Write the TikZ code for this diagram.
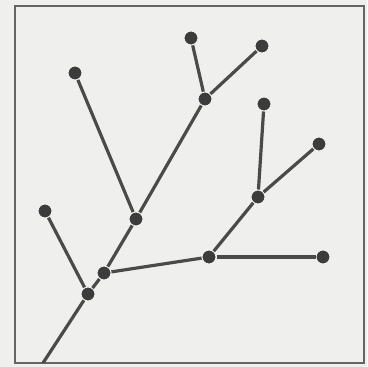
\documentclass[tikz,border=0pt]{standalone}
\definecolor{bg}{HTML}{EFEFED}
\definecolor{ink}{HTML}{4A4A4A}
\definecolor{dotc}{HTML}{3C3C3C}
\begin{document}
\begin{tikzpicture}[x=1pt,y=-1pt,
  branch/.style={draw=ink,line width=3.2pt},
  dot/.style={circle,fill=dotc,draw=bg,line width=2pt,minimum size=15pt,inner sep=0pt,outer sep=0pt}]
\useasboundingbox (0,0) rectangle (367,367);
\fill[bg] (0,0) rectangle (367,367);
\draw[draw=ink!85,line width=1.8pt] (15,6) rectangle (364,363);
\coordinate (root) at (43,363);
\node[dot] (nA) at (88,294) {};
\node[dot] (nB) at (104,273) {};
\node[dot] (nL1) at (45,211) {};
\node[dot] (nC) at (136,219) {};
\node[dot] (nL2) at (75,73) {};
\node[dot] (nE) at (205,99) {};
\node[dot] (nL3) at (191,38) {};
\node[dot] (nL4) at (262,46) {};
\node[dot] (nD) at (209,257) {};
\node[dot] (nL5) at (323,257) {};
\node[dot] (nF) at (258,197) {};
\node[dot] (nL6) at (264,104) {};
\node[dot] (nL7) at (319,144) {};
\draw[branch] (root) -- (nA);
\draw[branch] (nA) -- (nB);
\draw[branch] (nA) -- (nL1);
\draw[branch] (nB) -- (nC);
\draw[branch] (nB) -- (nD);
\draw[branch] (nC) -- (nL2);
\draw[branch] (nC) -- (nE);
\draw[branch] (nE) -- (nL3);
\draw[branch] (nE) -- (nL4);
\draw[branch] (nD) -- (nL5);
\draw[branch] (nD) -- (nF);
\draw[branch] (nF) -- (nL6);
\draw[branch] (nF) -- (nL7);
\end{tikzpicture}
\end{document}
